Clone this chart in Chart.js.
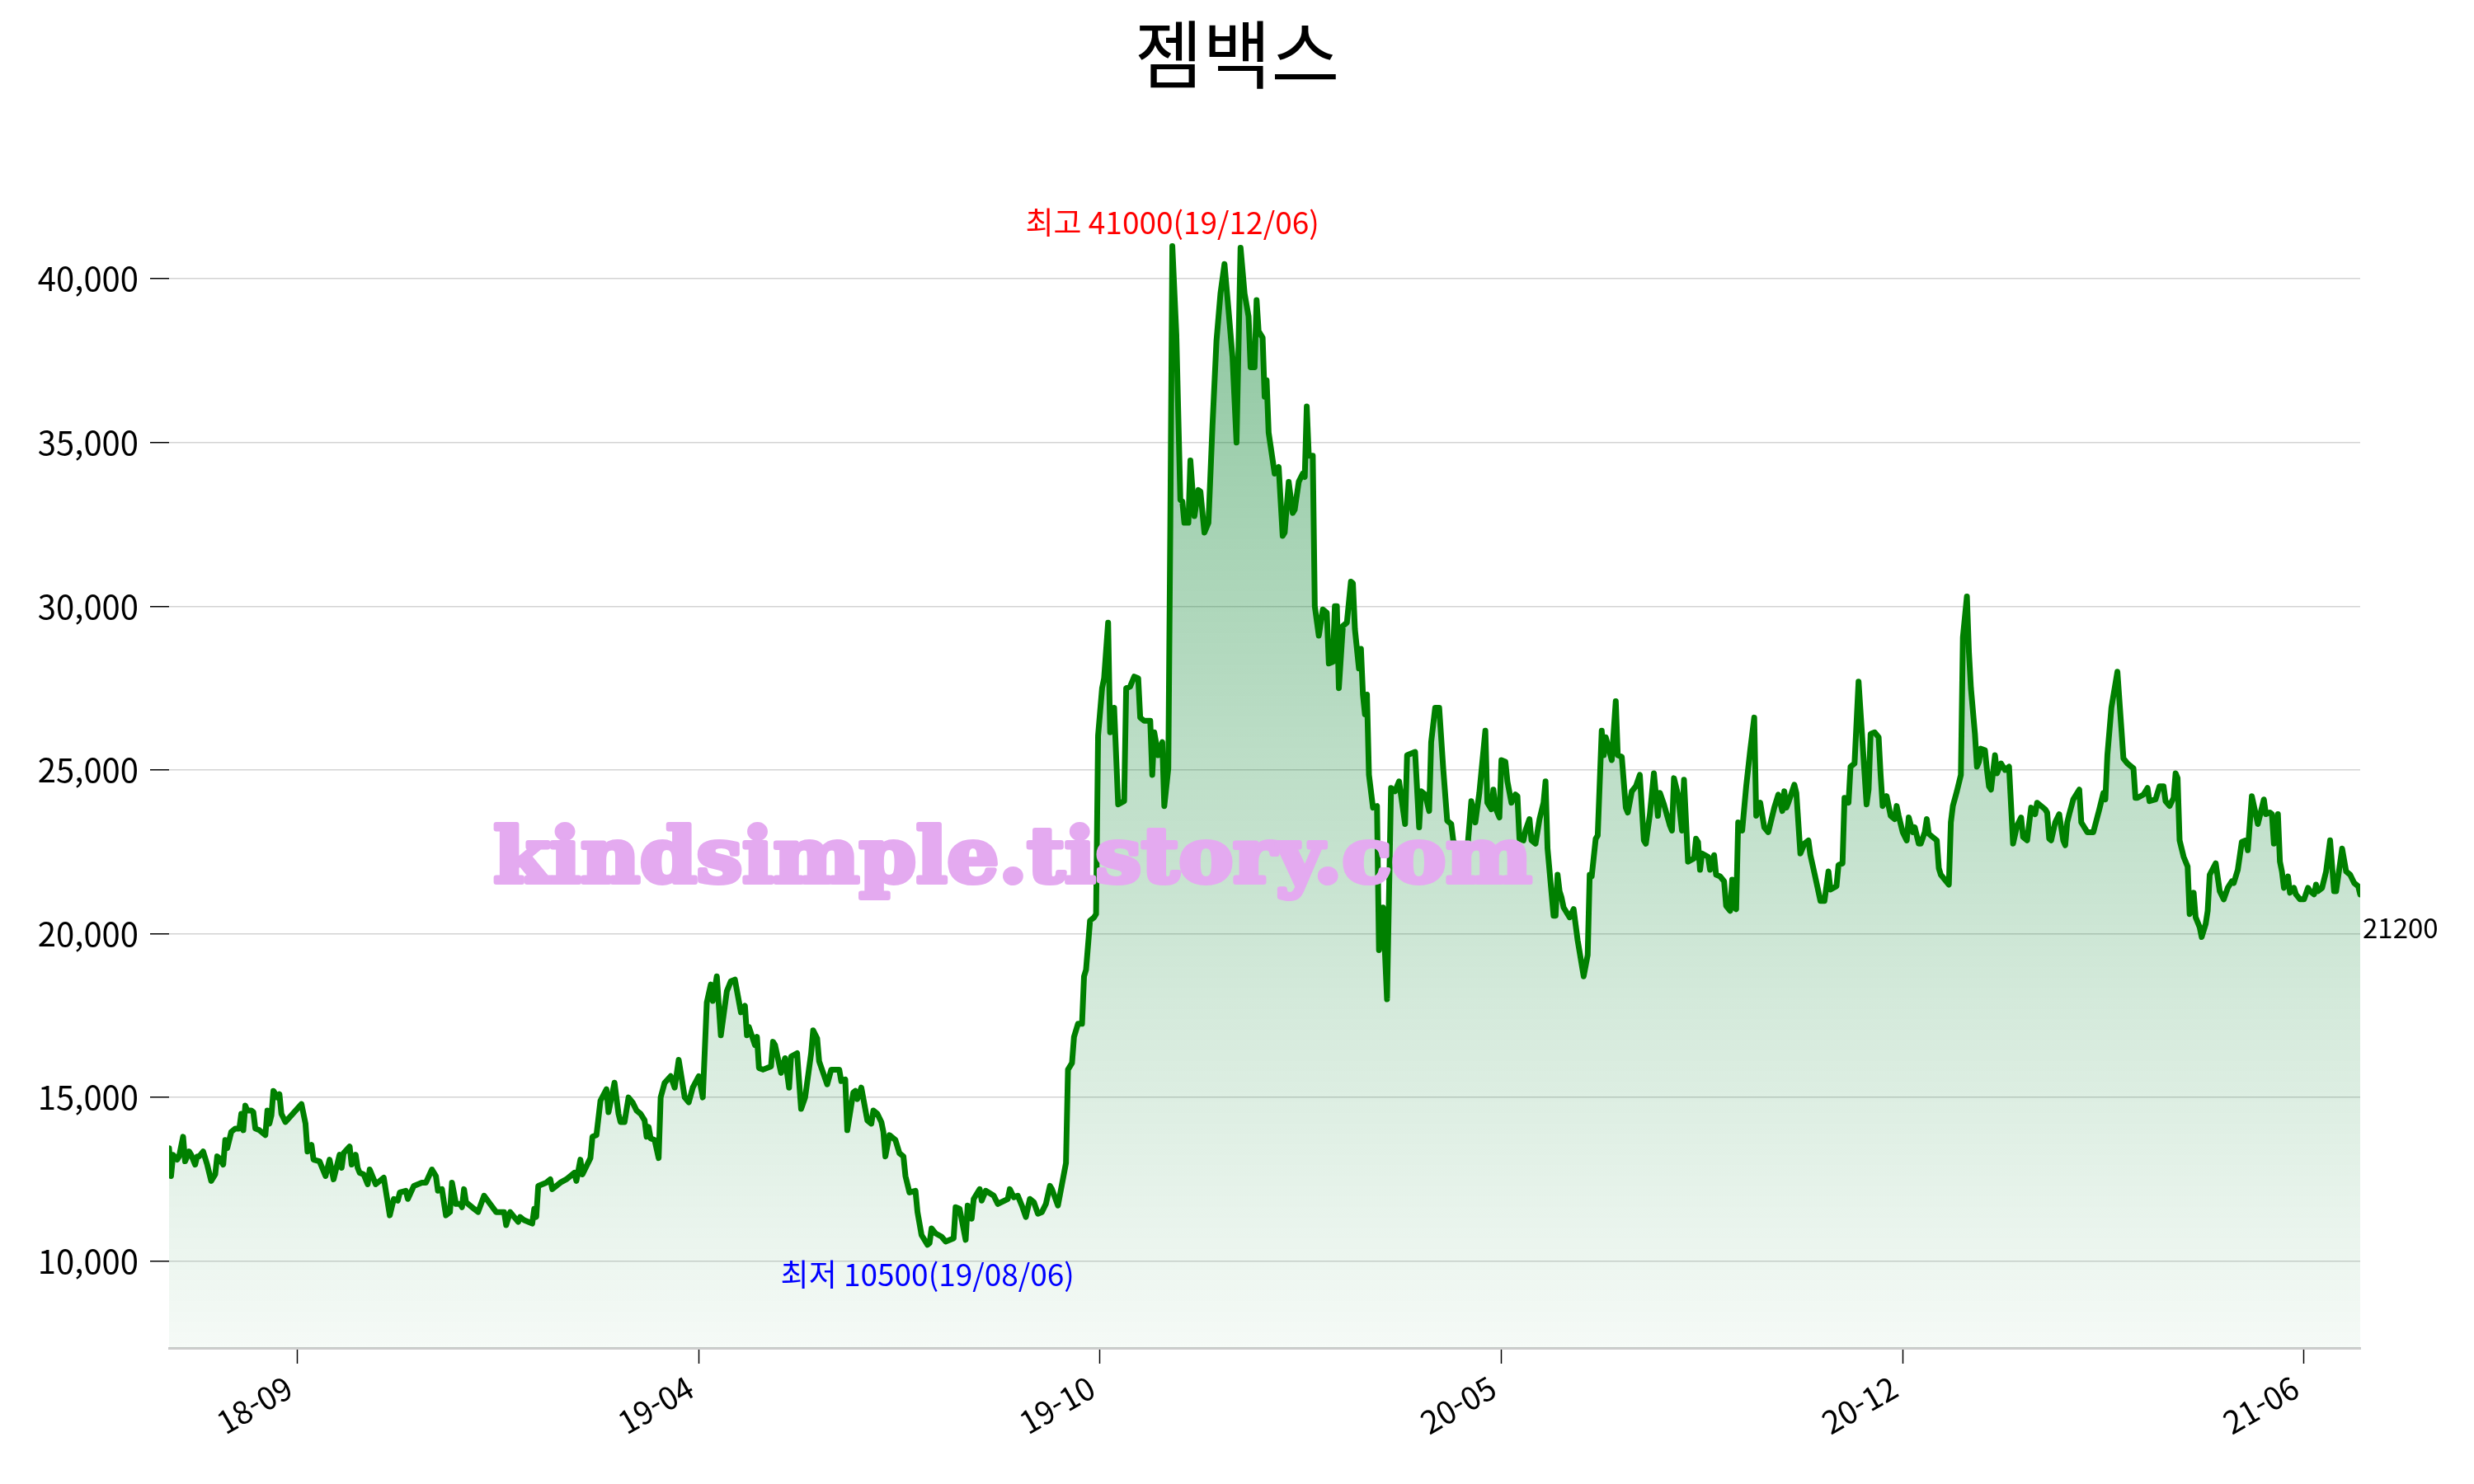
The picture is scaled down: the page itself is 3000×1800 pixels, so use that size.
<!DOCTYPE html>
<html lang="ko">
<head>
  <meta charset="UTF-8">
  <title>젬백스</title>
  <script src="https://cdn.jsdelivr.net/npm/chart.js"></script>
  <style>
    html, body { margin: 0; padding: 0; background: #fff; }
  </style>
</head>
<body>
  <canvas id="grafico" width="3000" height="1800"></canvas>

  <script>
    // dados: dias contados a partir de startDate, preço de fechamento
    const chartTitle = '젬백스';
    const watermark = 'kindsimple.tistory.com';
    const startDate = '2018-07-24';

    const dayOffsets = [
      0,1,2,4,5,7,8,10,11,13,14,15,17,19,21,23,24,25,27,28,29,31,33,35,36,37,38,39,41,42,
      43,45,48,49,50,51,52,54,55,56,58,66,68,69,71,72,75,78,80,82,85,86,87,90,91,93,94,95,97,99,
      100,103,107,110,112,114,115,118,119,122,126,128,131,133,134,136,138,140,141,143,
      145,146,147,148,152,154,157,160,163,167,168,170,172,174,175,177,181,182,183,184,
      188,190,191,195,198,202,203,205,206,210,211,213,215,218,219,
      222,224,225,227,229,231,233,235,237,238,239,240,242,244,245,247,250,252,254,257,
      259,261,264,266,268,270,271,273,275,278,280,282,285,287,288,289,292,293,294,296,
      300,301,302,305,307,309,310,313,315,317,320,321,323,324,326,328,330,334,335,337,
      338,341,342,343,345,348,350,351,353,355,356,357,359,362,364,366,367,369,372,373,
      375,378,379,380,382,385,387,391,392,394,397,398,400,401,404,405,407,411,413,418,
      419,421,423,425,427,429,431,433,
      435,437,439,440,443,447,448,450,451,453,455,456,457,459,461,462,463,465,466,468,
      469,471,473,476,477,479,481,483,484,486,489,490,491,493,495,496,498,499,500,502,
      504,505,506,508,509,511,513,514,516,518,520,522,524,526,528,530,532,534,536,538,
      539,541,542,543,545,546,547,548,551,553,555,556,558,560,561,563,565,566,567,568,
      570,571,573,575,577,578,580,581,582,583,585,587,589,590,591,593,594,595,596,597,
      598,600,602,603,605,607,609,611,613,616,617,621,623,624,626,628,629,631,633,635,
      637,639,640,642,644,647,649,651,653,
      656,657,659,660,661,663,664,666,667,669,671,672,673,675,676,678,679,681,683,685,
      686,687,690,691,692,693,694,695,698,700,702,705,707,708,709,711,712,714,715,716,
      719,721,722,724,726,727,729,731,733,735,736,738,740,742,743,745,748,749,750,752,
      754,755,757,760,761,762,763,764,767,768,770,771,773,775,776,778,779,780,781,782,
      784,786,788,790,791,793,795,797,800,802,804,805,806,807,810,811,813,815,817,818,
      820,823,825,827,828,831,832,834,835,837,838,840,842,846,847,848,850,852,853,854,
      856,858,860,861,862,864,866,867,869,870,872,
      873,875,876,877,879,881,882,883,885,887,888,889,891,893,894,896,897,898,900,901,
      902,903,905,906,907,908,910,911,913,915,917,919,921,923,924,926,928,930,931,933,
      935,936,937,938,940,942,944,945,946,947,949,952,953,956,959,962,964,965,966,968,
      971,973,974,976,979,980,981,984,986,987,990,992,994,995,997,999,1000,1001,1002,1004,
      1006,1007,1008,1009,1010,1012,1013,1015,1016,1017,1020,1022,1024,1026,1028,1029,1031,1033,1035,1036,
      1038,1041,1044,1045,1047,1048,1049,1051,1052,1053,1054,1056,1057,1059,1060,1062,1064,1066,1067,1069,
      1070,1071,1073,1075,1077,1079,1080,1083,1085,1087,1089,1091,1092
    ];

    const closePrices = [
      13450,12600,13250,13100,13200,13800,13050,13350,13250,12950,13200,13200,13350,12950,12450,12650,13200,13150,12950,13700,
      13450,13950,14050,14050,14500,14000,14750,14600,14600,14550,14050,14000,13850,14600,14200,14450,15200,15000,15100,14500,
      14250,14800,14200,13350,13550,13100,13050,12600,13100,12500,13250,12850,13300,13500,12950,13250,12850,12700,12650,12350,
      12800,12350,12550,11400,11900,11850,12100,12150,11900,12300,12400,12400,12800,12600,12150,12200,11400,11500,12400,11750,
      11750,11650,12200,11800,11600,11500,12000,11750,11500,11500,11100,11500,11350,11200,11350,11250,11150,11600,11350,12300,
      12400,12500,12200,12400,12500,12700,12450,13100,12650,13150,13800,13850,14900,15250,14550,
      15450,14500,14250,14250,15000,14850,14600,14500,14300,13800,14100,13750,13700,13150,15000,15450,15650,15300,16150,15000,
      14850,15300,15650,15000,17900,18450,17950,18700,16900,18250,18550,18600,17600,17800,16900,17150,16600,16850,15900,15850,
      15950,16700,16600,15750,16200,15300,16250,16350,14650,15000,16350,17050,16800,16100,15750,15400,15850,15850,15500,15550,
      14000,15150,15200,14950,15300,14300,14200,14600,14500,14250,13950,13200,13850,13700,13300,13200,12600,12100,12150,11500,
      10800,10500,10550,11000,10850,10750,10600,10700,11650,11600,10650,11700,11300,11900,12200,11850,12150,12000,11750,11900,
      12200,11950,12000,11700,11350,11900,11800,11450,
      11500,11750,12300,12200,11700,13000,15850,16050,16850,17250,17250,18700,18900,20400,20500,20600,26050,27500,27800,29500,
      26150,26900,23950,24050,27500,27550,27850,27800,26600,26500,26500,24850,26150,25450,25850,23900,25050,32500,41000,38300,
      33250,33200,32550,32550,34450,32750,33550,33500,32250,32550,35500,38100,39550,40450,39050,37600,35000,40950,39550,38850,
      37300,37300,39350,38400,38200,36400,36900,35300,34050,34250,32150,32250,33800,32850,32950,33800,34050,33950,36100,34600,
      34600,30000,29100,29900,29800,28250,28300,30000,30000,27500,29400,29500,30750,30700,29300,28100,28700,27300,26700,27300,
      24850,23850,23900,19500,20800,18000,24450,24350,24650,23350,25450,25550,23250,24350,24250,23750,25850,26900,26900,25050,
      23450,23350,22850,22600,22050,22550,24050,23400,24300,
      26200,24000,23800,24400,23850,23550,25300,25250,24650,24000,24250,24200,22900,22850,23150,23500,22850,22750,23500,24000,
      24650,22600,20550,20550,21800,21300,21100,20800,20500,20750,19800,18700,19350,21800,21750,22900,23000,26200,25450,26000,
      25300,27100,25450,25400,23850,23700,24350,24500,24850,22850,22750,23650,24900,23600,24300,23950,23300,23150,24750,24250,
      23150,24700,22200,22300,22900,22800,21950,22450,22350,21950,22400,21800,21750,21600,20850,20700,21650,20800,20750,23400,
      23150,24500,25600,26600,23600,24000,23250,23100,23850,24250,23750,24350,23850,24000,24550,24300,22450,22750,22850,22400,
      21850,21000,21000,21900,21350,21450,22100,22150,24150,24000,25100,25200,27700,23950,24400,26100,26150,26000,24850,23900,
      24200,23600,23500,23900,23600,23100,22850,23550,23100,23250,22750,
      22750,23100,23500,23050,22950,22850,22000,21800,21650,21500,23400,23900,24350,24850,29050,30300,28600,27500,26100,25100,
      25250,25650,25600,25000,24500,24400,25450,24900,25200,25000,25100,22750,23300,23550,22950,22850,23850,23650,24000,23900,
      23800,23700,22900,22850,23400,23650,22850,22700,23400,23650,24100,24400,23400,23100,23100,23800,24300,24100,25450,26900,
      28000,26250,25350,25200,25050,24150,24150,24250,24450,24050,24100,24500,24500,24050,23900,24150,24900,24750,22850,22350,
      22050,20600,20800,21250,20500,20200,19900,20300,20700,21800,22150,21300,21050,21400,21600,21550,21950,22800,22850,22550,
      24200,23350,24100,23650,23700,23650,22750,23650,22200,21900,21400,21750,21250,21400,21200,21050,21050,21400,21300,21200,
      21500,21300,21400,21900,22850,21300,21300,22600,21900,21800,21550,21450,21200
    ];

    const yTickValues = [10000, 15000, 20000, 25000, 30000, 35000, 40000];
    const xTickOffsets = [64, 264, 464, 664, 864, 1064];
    const xTickLabels = ['18-09', '19-04', '19-10', '20-05', '20-12', '21-06'];

    const FONTE = '"Noto Sans CJK KR", "Noto Sans", sans-serif';

    function formatDate(offset) {
      const d = new Date(Date.parse(startDate + 'T00:00:00Z') + offset * 86400000);
      const yy = String(d.getUTCFullYear()).slice(2);
      const mm = String(d.getUTCMonth() + 1).padStart(2, '0');
      const dd = String(d.getUTCDate()).padStart(2, '0');
      return `${yy}/${mm}/${dd}`;
    }

    const maxPrice = Math.max(...closePrices);
    const minPrice = Math.min(...closePrices);
    const maxIdx = closePrices.indexOf(maxPrice);
    const minIdx = closePrices.indexOf(minPrice);
    const lastIdx = closePrices.length - 1;

    // titulo, anotacoes e marca d'agua
    const extras = {
      id: 'extras',
      afterDatasetsDraw(chart) {
        const { ctx, scales: { x, y } } = chart;
        ctx.save();
        ctx.textAlign = 'center';
        ctx.textBaseline = 'middle';

        ctx.font = `37px ${FONTE}`;
        ctx.fillStyle = '#ff0000';
        ctx.fillText(`최고 ${maxPrice}(${formatDate(dayOffsets[maxIdx])})`,
          x.getPixelForValue(dayOffsets[maxIdx]), y.getPixelForValue(maxPrice) - 28);

        ctx.fillStyle = '#0000ff';
        ctx.fillText(`최저 ${minPrice}(${formatDate(dayOffsets[minIdx])})`,
          x.getPixelForValue(dayOffsets[minIdx]), y.getPixelForValue(minPrice) + 36);

        ctx.textAlign = 'left';
        ctx.font = `33px ${FONTE}`;
        ctx.fillStyle = '#000';
        ctx.fillText(String(closePrices[lastIdx]),
          x.getPixelForValue(dayOffsets[lastIdx]) + 3, y.getPixelForValue(closePrices[lastIdx]) + 41);
        ctx.restore();
      },
      afterDraw(chart) {
        const { ctx } = chart;
        ctx.save();
        ctx.textAlign = 'center';
        ctx.textBaseline = 'middle';
        ctx.fillStyle = '#000';
        ctx.font = `90px ${FONTE}`;
        ctx.fillText(chartTitle, chart.width / 2, 66);

        ctx.font = 'bold 92px "DejaVu Serif"';
        const w = ctx.measureText(watermark).width;
        ctx.translate(1228, 1070);
        ctx.scale(1259 / w, 1);
        ctx.textBaseline = 'alphabetic';
        ctx.fillStyle = '#e4aaf0';
        ctx.strokeStyle = '#e4aaf0';
        ctx.lineWidth = 6;
        ctx.lineJoin = 'round';
        ctx.strokeText(watermark, 0, 0);
        ctx.fillText(watermark, 0, 0);
        ctx.restore();
      }
    };

    const ctx = document.getElementById('grafico').getContext('2d');

    new Chart(ctx, {
      type: 'line',
      data: {
        datasets: [{
          data: dayOffsets.map((d, i) => ({ x: d, y: closePrices[i] })),
          borderColor: '#008000',
          borderWidth: 7,
          borderJoinStyle: 'round',
          borderCapStyle: 'round',
          pointRadius: 0,
          tension: 0,
          fill: 'start',
          backgroundColor: (c) => {
            const area = c.chart.chartArea;
            if (!area) return 'rgba(0,128,0,0.2)';
            const g = c.chart.ctx.createLinearGradient(0, area.top, 0, area.bottom);
            g.addColorStop(0, 'rgba(0,128,40,0.48)');
            g.addColorStop(1, 'rgba(0,128,40,0.04)');
            return g;
          }
        }]
      },
      options: {
        responsive: false,
        animation: false,
        devicePixelRatio: 1,
        layout: { padding: { top: 217, right: 138, left: 0, bottom: 0 } },
        scales: {
          x: {
            type: 'linear',
            min: dayOffsets[0],
            max: dayOffsets[lastIdx],
            afterBuildTicks: (s) => { s.ticks = xTickOffsets.map(v => ({ value: v })); },
            afterFit: (s) => { s.height = 165; },
            grid: { drawOnChartArea: false, tickLength: 19, tickColor: '#000', tickWidth: 1.5 },
            border: { display: true, color: '#cccccc', width: 3 },
            ticks: {
              autoSkip: false,
              maxRotation: 30,
              minRotation: 30,
              padding: 6,
              labelOffset: -10,
              color: '#000',
              font: { family: FONTE, size: 38 },
              callback: (v) => xTickLabels[xTickOffsets.indexOf(v)]
            }
          },
          y: {
            min: 7350,
            max: 43050,
            afterBuildTicks: (s) => { s.ticks = yTickValues.map(v => ({ value: v })); },
            afterFit: (s) => { s.width = 205; },
            grid: { color: '#d3d3d3', lineWidth: 1.5, tickLength: 23, tickColor: '#000', tickWidth: 1.5 },
            border: { display: false },
            ticks: {
              padding: 14,
              color: '#000',
              font: { family: FONTE, size: 40 },
              callback: (v) => v.toLocaleString('en-US')
            }
          }
        },
        plugins: {
          legend: { display: false },
          title: { display: false },
          tooltip: { enabled: false }
        }
      },
      plugins: [extras]
    });
  </script>
</body>
</html>
